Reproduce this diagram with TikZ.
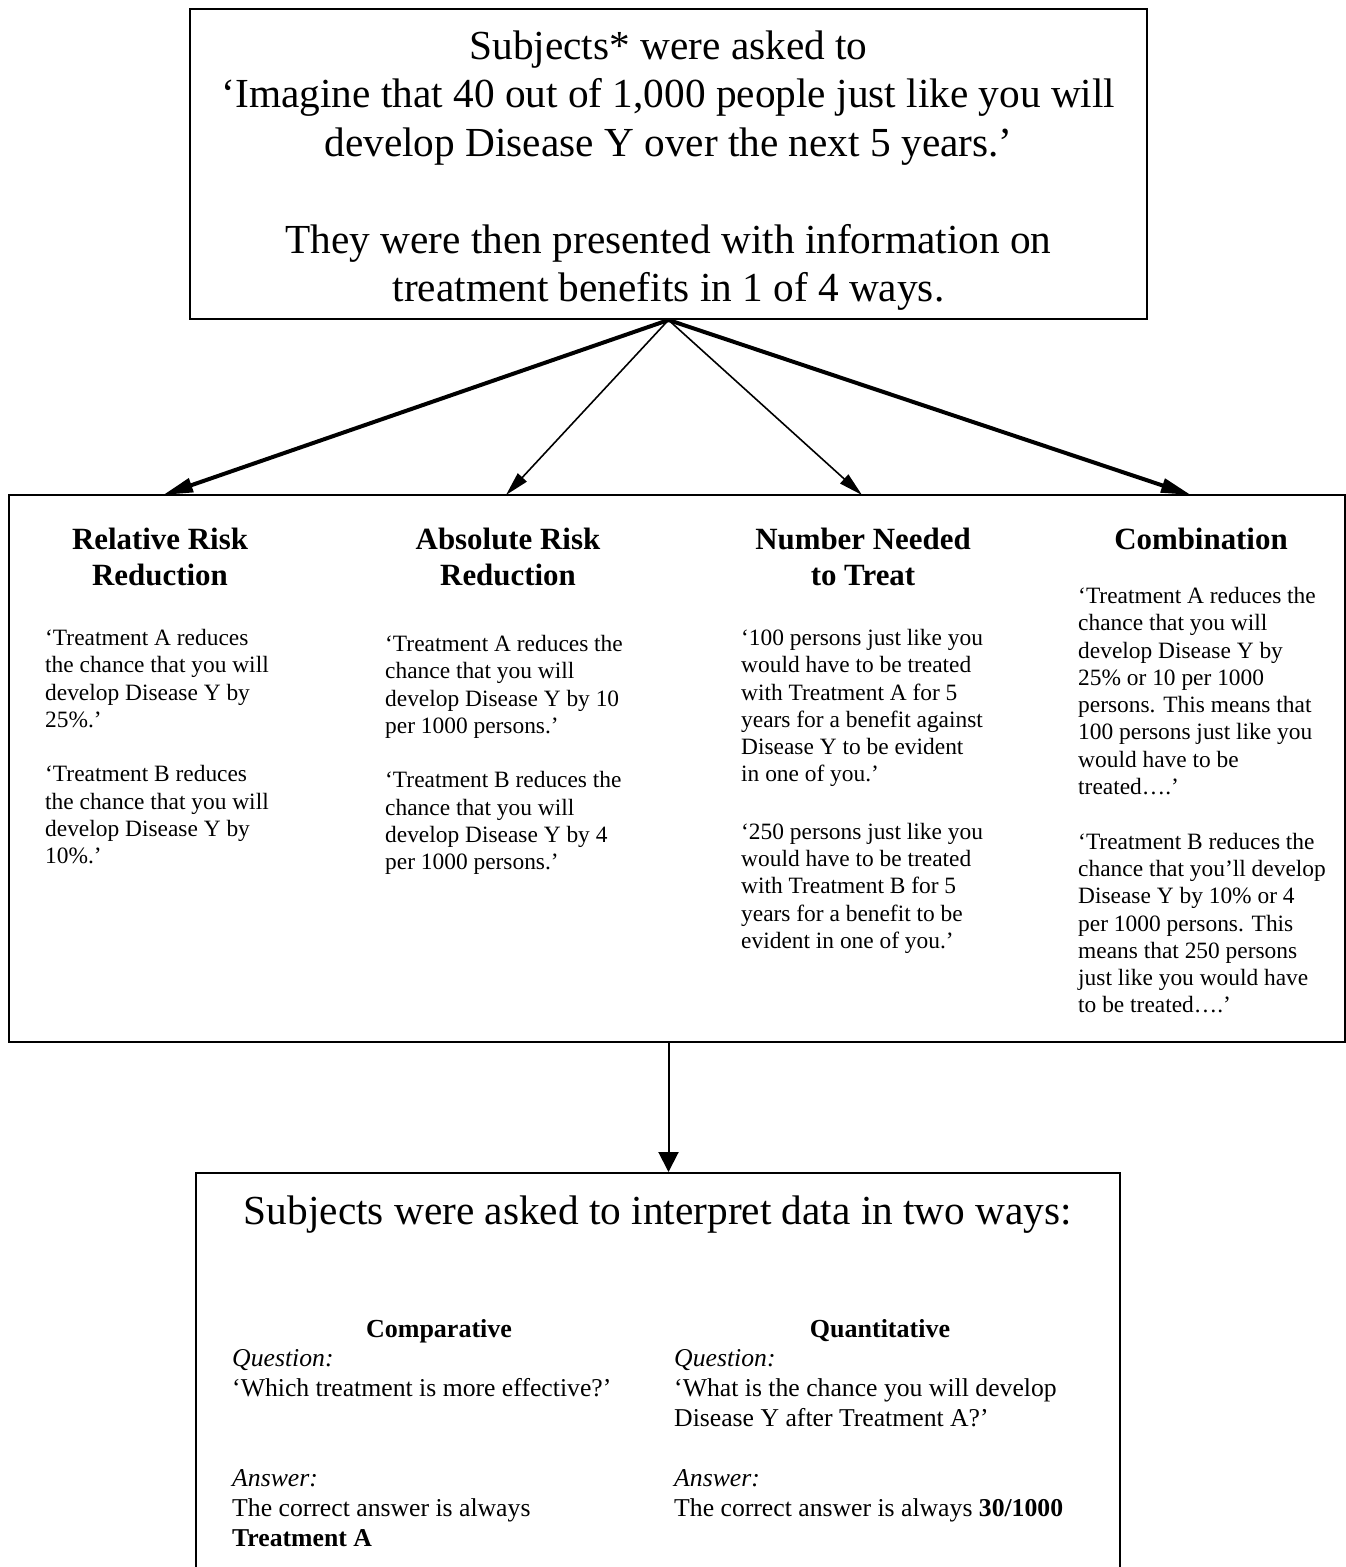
\documentclass[tikz,border=0pt]{standalone}
\usepackage{fontspec}
\setmainfont{Liberation Serif}
\usetikzlibrary{arrows.meta}

\begin{document}
\begin{tikzpicture}[x=1pt,y=-1pt,
      box/.style={draw,line width=2pt,inner sep=0pt},
      big/.style={font=\fontsize{41.3}{48.5}\selectfont,align=center},
      head/.style={font=\fontsize{30.9}{36}\selectfont\bfseries,align=center,
                   anchor=north,inner sep=0pt},
      body/.style={font=\fontsize{23.4}{27.3}\selectfont,align=left,
                   anchor=north west,inner sep=0pt},
      qhead/.style={font=\fontsize{26}{30}\selectfont\bfseries,anchor=north,inner sep=0pt},
      qa/.style={font=\fontsize{25.7}{30}\selectfont,align=left,
                 anchor=north west,inner sep=0pt},
      fatarrow/.style={line width=4pt,-{Triangle[length=30pt,width=14pt]}},
      thinarrow/.style={line width=1.6pt,-{Triangle[length=24pt,width=12pt]}},
      downarrow/.style={line width=2pt,-{Triangle[length=20pt,width=20pt]}}]
    \useasboundingbox (0,0) rectangle (1346,1567);
    \node[box,big,minimum width=957pt,minimum height=310pt] (task) at (668.5,164)
      {\rule{0pt}{42pt}Subjects* were asked to\\
       ‘Imagine that 40 out of 1,000 people just like you will\\
       develop Disease Y over the next 5 years.’\\[48.5pt]
       They were then presented with information on\\
       treatment benefits in 1 of 4 ways.};
    \node[box,minimum width=1336pt,minimum height=547pt] (formats) at (677,768.5) {};
    \node[box,minimum width=924pt,minimum height=430pt,anchor=north] (tasks) at (658,1172) {};
    \node[head] (rrrh) at (160,528) {Relative Risk\\Reduction};
    \node[head] (arrh) at (508,528) {Absolute Risk\\Reduction};
    \node[head] (nnth) at (863,528) {Number Needed\\to Treat};
    \node[head] (combh) at (1201,528) {Combination};
    \node[body] (rrrb) at (45,629)
      {‘Treatment A reduces\\the chance that you will\\develop Disease Y by\\25\%.’\\[27.3pt]
       ‘Treatment B reduces\\the chance that you will\\develop Disease Y by\\10\%.’};
    \node[body] (arrb) at (385,635)
      {‘Treatment A reduces the\\chance that you will\\develop Disease Y by 10\\per 1000 persons.’\\[27.3pt]
       ‘Treatment B reduces the\\chance that you will\\develop Disease Y by 4\\per 1000 persons.’};
    \node[body] (nntb) at (741,629)
      {‘100 persons just like you\\would have to be treated\\with Treatment A for 5\\
       years for a benefit against\\Disease Y to be evident\\in one of you.’\\[30pt]
       ‘250 persons just like you\\would have to be treated\\with Treatment B for 5\\
       years for a benefit to be\\evident in one of you.’};
    \node[body] (combb) at (1078,587)
      {‘Treatment A reduces the\\chance that you will\\develop Disease Y by\\25\% or 10 per 1000\\
       persons. This means that\\100 persons just like you\\would have to be\\treated….’\\[27.3pt]
       ‘Treatment B reduces the\\chance that you’ll develop\\Disease Y by 10\% or 4\\
       per 1000 persons. This\\means that 250 persons\\just like you would have\\to be treated….’};
    \coordinate (rrr) at (163,495);
    \coordinate (arr) at (506,495);
    \coordinate (nnt) at (862,495);
    \coordinate (comb) at (1191,495);
    \foreach \pt/\sty in {rrr/fatarrow,arr/thinarrow,nnt/thinarrow,comb/fatarrow}
      \draw[\sty] (task.south) -- (\pt);
    \draw[downarrow] (formats.south -| task.south) -- (tasks.north -| task.south);
    \node[big,anchor=north,inner sep=0pt] (ttl) at (658,1196)
      {Subjects were asked to interpret data in two ways:};
    \node[qhead] (cmph) at (439,1319) {Comparative};
    \node[qhead] (qnth) at (880,1319) {Quantitative};
    \node[qa] (cmpb) at (232,1349)
      {\textit{Question:}\\‘Which treatment is more effective?’\\[60pt]
       \textit{Answer:}\\The correct answer is always\\\textbf{Treatment A}};
    \node[qa] (qntb) at (674,1349)
      {\textit{Question:}\\‘What is the chance you will develop\\Disease Y after Treatment A?’\\[30pt]
       \textit{Answer:}\\The correct answer is always \textbf{30/1000}};
  \end{tikzpicture}
\end{document}
